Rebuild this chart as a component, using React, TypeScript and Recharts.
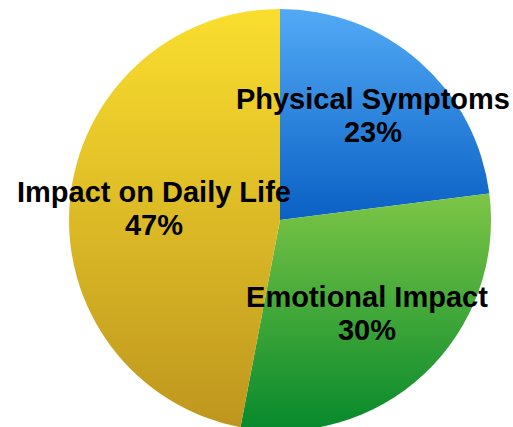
import { PieChart, Pie, Cell } from 'recharts'

const categories = ['Physical Symptoms', 'Emotional Impact', 'Impact on Daily Life']
const shares = [23, 30, 47]

// vertical gradients, light at top, darker at bottom
const GRADIENTS = [
  { id: 'gradBlue', top: '#52AAF6', bottom: '#0A60C4' },
  { id: 'gradGreen', top: '#7DC646', bottom: '#06892C' },
  { id: 'gradYellow', top: '#FADE2E', bottom: '#BE961E' },
]

// how far out each label sits, as a fraction of the outer radius
const LABEL_RADIUS = [0.666, 0.602, 0.6]

const data = categories.map((name, i) => ({ name, value: shares[i] }))

const RADIAN = Math.PI / 180

function renderLabel(props: any) {
  const { cx, cy, midAngle, outerRadius, name, percent, index } = props
  const r = outerRadius * LABEL_RADIUS[index]
  const x = cx + r * Math.cos(-midAngle * RADIAN)
  const y = cy + r * Math.sin(-midAngle * RADIAN)
  return (
    <text
      x={x}
      y={y}
      textAnchor="middle"
      fill="#000"
      fontFamily="'Liberation Sans', Arial, sans-serif"
      fontWeight="bold"
      fontSize={29}
    >
      <tspan x={x} dy={-6}>{name}</tspan>
      <tspan x={x} dy={33}>{`${Math.round(percent * 100)}%`}</tspan>
    </text>
  )
}

export default function App() {
  return (
    <div style={{ position: 'absolute', left: 0, top: 0, width: 513, height: 427, background: '#fff' }}>
      <PieChart width={513} height={427} margin={{ top: 0, right: 0, bottom: 0, left: 0 }}>
        <defs>
          {GRADIENTS.map((g) => (
            <linearGradient key={g.id} id={g.id} x1="0" y1="0" x2="0" y2="1">
              <stop offset="0%" stopColor={g.top} />
              <stop offset="100%" stopColor={g.bottom} />
            </linearGradient>
          ))}
        </defs>
        <Pie
          data={data}
          dataKey="value"
          nameKey="name"
          cx={280}
          cy={220}
          outerRadius={211}
          startAngle={90}
          endAngle={-270}
          stroke="none"
          label={renderLabel}
          labelLine={false}
          isAnimationActive={false}
        >
          {data.map((_, index) => (
            <Cell key={`cell-${index}`} fill={`url(#${GRADIENTS[index].id})`} />
          ))}
        </Pie>
      </PieChart>
    </div>
  )
}
